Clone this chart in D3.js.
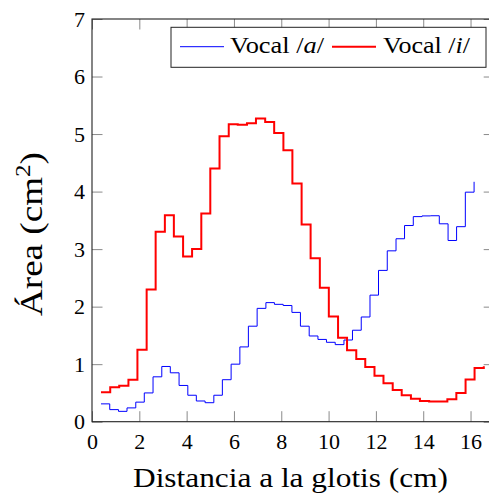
<!DOCTYPE html>
<html>
<head>
<meta charset="utf-8">
<script src="https://cdn.jsdelivr.net/npm/d3@7"></script>
<style>
  html, body { margin: 0; padding: 0; background: #fff; }
  svg { display: block; }
  text { font-family: "Liberation Serif", "Times New Roman", serif; fill: #000; }
</style>
</head>
<body>
<svg id="chart" width="489" height="497"></svg>
<script>
// ---- data ----
const xTicks = [0, 2, 4, 6, 8, 10, 12, 14, 16];
const yTicks = [0, 1, 2, 3, 4, 5, 6, 7];

// Vocal /a/ (blue) : section positions (cm) and areas (cm^2)
const xA = [0.38, 0.75, 1.12, 1.48, 1.85, 2.21, 2.58, 2.95, 3.31, 3.68,
            4.05, 4.41, 4.78, 5.15, 5.51, 5.88, 6.25, 6.61, 6.98, 7.35,
            7.71, 8.08, 8.45, 8.81, 9.18, 9.55, 9.91, 10.28, 10.65, 11.01,
            11.38, 11.75, 12.11, 12.48, 12.85, 13.21, 13.58, 13.95, 14.31, 14.68,
            15.05, 15.41, 15.78, 16.15];
const areaA = [0.31, 0.21, 0.18, 0.24, 0.34, 0.50, 0.78, 0.96, 0.85, 0.63,
               0.46, 0.36, 0.33, 0.46, 0.73, 1.00, 1.30, 1.66, 1.97, 2.07,
               2.04, 2.02, 1.90, 1.66, 1.49, 1.43, 1.38, 1.34, 1.42, 1.59,
               1.82, 2.20, 2.63, 2.97, 3.18, 3.41, 3.565, 3.577, 3.58, 3.44,
               3.15, 3.39, 3.99, 4.17];

// Vocal /i/ (red)
const xI = [0.38, 0.77, 1.15, 1.54, 1.92, 2.31, 2.69, 3.08, 3.46, 3.85,
            4.23, 4.62, 5.00, 5.39, 5.78, 6.16, 6.55, 6.93, 7.32, 7.70,
            8.09, 8.47, 8.86, 9.24, 9.63, 10.01, 10.40, 10.78, 11.17, 11.55,
            11.94, 12.32, 12.71, 13.09, 13.48, 13.86, 14.25, 14.63, 15.02, 15.40,
            15.79, 16.17, 16.56];
const areaI = [0.51, 0.60, 0.625, 0.73, 1.25, 2.30, 3.30, 3.59, 3.22, 2.87,
               3.00, 3.62, 4.40, 4.96, 5.17, 5.16, 5.19, 5.27, 5.21, 5.02,
               4.72, 4.14, 3.43, 2.84, 2.33, 1.83, 1.46, 1.24, 1.09, 0.95,
               0.80, 0.67, 0.55, 0.46, 0.40, 0.36, 0.35, 0.35, 0.39, 0.50,
               0.735, 0.935, 0.965];

const seriesNames = ["Vocal", "Vocal"];
const seriesSymbols = ["a", "i"];
const xLabel = "Distancia a la glotis (cm)";

// ---- layout ----
const svg = d3.select("#chart");
const L = 92, R = 494.2, T = 19, B = 421.7;
const x = d3.scaleLinear().domain([0, 17]).range([L, R]);
const y = d3.scaleLinear().domain([0, 7]).range([B, T]);
const tickLen = 10.5;

// axes
function styleAxis(g) {
  g.select(".domain").remove();
  g.attr("font-family", null);
  g.selectAll(".tick line").attr("stroke", "#8a8a8a").attr("stroke-width", 1);
  g.selectAll(".tick text").attr("font-size", 22).attr("fill", "#000");
}
svg.append("g").attr("transform", `translate(0,${B})`)
  .call(d3.axisBottom(x).tickValues(xTicks).tickSize(-tickLen).tickPadding(11.8).tickFormat(d3.format("d")))
  .call(styleAxis);
svg.append("g").attr("transform", `translate(0,${T})`)
  .call(d3.axisTop(x).tickValues(xTicks).tickSize(-tickLen).tickFormat(""))
  .call(styleAxis);
svg.append("g").attr("transform", `translate(${L},0)`)
  .call(d3.axisLeft(y).tickValues(yTicks).tickSize(-tickLen).tickPadding(7).tickFormat(d3.format("d")))
  .call(styleAxis);
svg.append("g").attr("transform", `translate(${R},0)`)
  .call(d3.axisRight(y).tickValues(yTicks).tickSize(-tickLen).tickFormat(""))
  .call(styleAxis);

// frame
svg.append("rect").attr("x", L).attr("y", T).attr("width", R - L).attr("height", B - T)
  .attr("fill", "none").attr("stroke", "#222").attr("stroke-width", 1.1);

// lines
const line = d3.line().curve(d3.curveStepAfter).x(d => x(d[0])).y(d => y(d[1]));
svg.append("path").datum(xA.map((v, i) => [v, areaA[i]]))
  .attr("d", line).attr("fill", "none").attr("stroke", "#0000ff").attr("stroke-width", 1);
svg.append("path").datum(xI.map((v, i) => [v, areaI[i]]))
  .attr("d", line).attr("fill", "none").attr("stroke", "#ff0000").attr("stroke-width", 2);

// legend
const lg = svg.append("g");
lg.append("rect").attr("x", 171).attr("y", 27.3).attr("width", 315).attr("height", 40)
  .attr("fill", "#fff").attr("stroke", "#222").attr("stroke-width", 1);
const legendItems = [
  {lx: 180, tx: 230, tl: 94, color: "#0000ff", w: 1},
  {lx: 332, tx: 383, tl: 87, color: "#ff0000", w: 2}
];
legendItems.forEach((it, i) => {
  lg.append("line").attr("x1", it.lx).attr("x2", it.lx + 44).attr("y1", 46.7).attr("y2", 46.7)
    .attr("stroke", it.color).attr("stroke-width", it.w);
  const t = lg.append("text").attr("x", it.tx).attr("y", 53.3).attr("font-size", 23)
    .attr("textLength", it.tl).attr("lengthAdjust", "spacingAndGlyphs");
  t.append("tspan").text(seriesNames[i] + " /");
  t.append("tspan").attr("font-style", "italic").text(seriesSymbols[i]);
  t.append("tspan").text("/");
});

// axis labels
svg.append("text").attr("x", 133).attr("y", 486.7).attr("font-size", 27)
  .attr("textLength", 315).attr("lengthAdjust", "spacingAndGlyphs").text(xLabel);

const yl = svg.append("text").attr("transform", "translate(42,234) rotate(-90)")
  .attr("text-anchor", "middle").attr("font-size", 31)
  .attr("textLength", 164).attr("lengthAdjust", "spacingAndGlyphs");
yl.append("tspan").text("Área (cm");
yl.append("tspan").attr("font-size", 21).attr("dy", -12).text("2");
yl.append("tspan").attr("dy", 12).text(")");
</script>
</body>
</html>
